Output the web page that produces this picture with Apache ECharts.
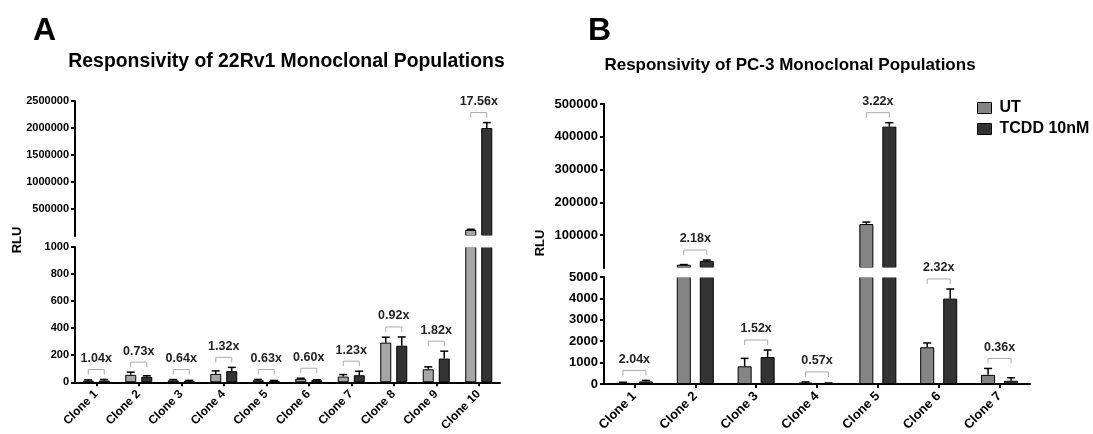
<!DOCTYPE html>
<html><head><meta charset="utf-8">
<script src="https://cdn.jsdelivr.net/npm/echarts@6/dist/echarts.min.js"></script>
<style>html,body{margin:0;padding:0;background:#fff}#c{width:1093px;height:434px}</style>
</head><body><div id="c"></div>
<script>
// ---------- DATA ----------
const catsA = ['Clone 1','Clone 2','Clone 3','Clone 4','Clone 5','Clone 6','Clone 7','Clone 8','Clone 9','Clone 10'];
const utA = [12, 55, 14, 62, 15, 25, 42, 293, 96, 114000];
const utErrA = [6, 20, 6, 22, 6, 5, 15, 40, 18, 10000];
const tcddA = [12.5, 40, 9, 82, 9.5, 15, 52, 270, 175, 2000000];
const tcddErrA = [8, 8, 5, 28, 4, 4, 30, 65, 55, 100000];
const foldA = ['1.04x','0.73x','0.64x','1.32x','0.63x','0.60x','1.23x','0.92x','1.82x','17.56x'];
const lowerMaxA = 1000, lowerStepA = 200, upperMaxA = 2500000, upperStepA = 500000;

const catsB = ['Clone 1','Clone 2','Clone 3','Clone 4','Clone 5','Clone 6','Clone 7'];
const utB = [60, 10000, 830, 70, 134000, 1720, 430];
const utErrB = [25, 500, 370, 30, 6000, 200, 300];
const tcddB = [122, 21800, 1260, 40, 431000, 3990, 155];
const tcddErrB = [50, 2500, 330, 10, 12000, 450, 140];
const foldB = ['2.04x','2.18x','1.52x','0.57x','3.22x','2.32x','0.36x'];
const lowerMaxB = 5000, lowerStepB = 1000, upperMaxB = 500000, upperStepB = 100000;

const seriesNames = ['UT', 'TCDD 10nM'];

// ---------- STYLE / LAYOUT ----------
const FONT = '"Liberation Sans", Arial, sans-serif';
const DARK = '#333333';
const UT_A = '#a6a6a6';
const UT_B = '#858585';
const G = [
  {left: 75, width: 425, top: 101, height: 135},
  {left: 75, width: 425, top: 247, height: 136},
  {left: 604, width: 426, top: 104, height: 164},
  {left: 604, width: 426, top: 277, height: 108}
];

const chart = echarts.init(document.getElementById('c'), null, {renderer: 'canvas'});

function yAxisDef(gi, max, step, fs, hideMin) {
  return {
    type: 'value', gridIndex: gi, min: 0, max: max, interval: step,
    axisLine: {show: true, lineStyle: {color: '#000', width: 2}},
    axisTick: {show: true, length: 4, lineStyle: {color: '#000', width: 2}},
    splitLine: {show: false},
    axisLabel: {
      color: '#000', fontWeight: 'bold', fontSize: fs, fontFamily: FONT, margin: 6,
      showMinLabel: !hideMin,
      formatter: v => (hideMin && v === 0) ? '' : String(v)
    }
  };
}
function xAxisDef(gi, cats, show, fs) {
  return {
    type: 'category', gridIndex: gi, data: cats, show: show,
    axisLine: {show: true, lineStyle: {color: '#000', width: 2}},
    axisTick: {show: true, alignWithLabel: true, length: 4, lineStyle: {color: '#000', width: 2}},
    axisLabel: {color: '#000', fontWeight: 'bold', fontSize: fs, fontFamily: FONT, rotate: 45, margin: 10, interval: 0}
  };
}

function barSeries(name, gi, vals, color, bw, gapPct, filter) {
  return {
    type: 'bar', name: name, xAxisIndex: gi, yAxisIndex: gi,
    barWidth: bw, barGap: gapPct, clip: true, z: 2,
    itemStyle: {color: color, borderColor: '#000', borderWidth: 1},
    emphasis: {disabled: true},
    data: vals.map(v => filter(v) ? v : '-')
  };
}

function errSeries(gi, vals, errs, sign, bw, gap, filter) {
  const data = [];
  vals.forEach((v, i) => { if (filter(v)) data.push([i, v, errs[i]]); });
  return {
    type: 'custom', xAxisIndex: gi, yAxisIndex: gi, z: 5, clip: false,
    encode: {x: 0, y: 1},
    silent: true,
    renderItem: function (params, api) {
      const i = api.value(0), v = api.value(1), e = api.value(2);
      const p0 = api.coord([i, v]);
      const p1 = api.coord([i, v + e]);
      const x = p0[0] + sign * (bw + gap) / 2;
      return {type: 'group', children: [
        {type: 'line', shape: {x1: x, y1: p0[1], x2: x, y2: p1[1]}, style: {stroke: '#000', lineWidth: 1.5}},
        {type: 'line', shape: {x1: x - 4, y1: p1[1], x2: x + 4, y2: p1[1]}, style: {stroke: '#000', lineWidth: 1.5}}
      ]};
    },
    data: data
  };
}

function foldSeries(gi, ut, utE, td, tdE, labels, bw, gap, filter) {
  const data = [];
  ut.forEach((v, i) => {
    const top = Math.max(v + utE[i], td[i] + tdE[i]);
    if (filter(Math.max(v, td[i]))) data.push([i, top]);
  });
  return {
    type: 'custom', xAxisIndex: gi, yAxisIndex: gi, z: 6, clip: false,
    encode: {x: 0, y: 1}, silent: true,
    renderItem: function (params, api) {
      const i = api.value(0), top = api.value(1);
      const p = api.coord([i, top]);
      const off = (bw + gap) / 2;
      const y = p[1] - 10;
      return {type: 'group', children: [
        {type: 'polyline', shape: {points: [[p[0] - off, y + 5], [p[0] - off, y], [p[0] + off, y], [p[0] + off, y + 5]]},
          style: {stroke: '#aaaaaa', lineWidth: 1, fill: null}},
        {type: 'text', x: p[0], y: y - 11,
          style: {text: labels[i], fontSize: 12.5, fontWeight: 'bold', fontFamily: FONT, fill: '#222',
            align: 'center', verticalAlign: 'middle'}}
      ]};
    },
    data: data
  };
}

// white band that hides the bar borders at each axis break (above bars, below annotations)
function breakBand(upper, lower) {
  const y0 = upper.top + upper.height - 0.4;
  const y1 = lower.top + 0.6;
  return {type: 'rect', z: 3, silent: true,
    shape: {x: upper.left + 1.5, y: y0, width: upper.width, height: y1 - y0},
    style: {fill: '#fff'}};
}

const BW_A = 11, GAP_A = 5, BW_B = 14, GAP_B = 9;
const lowA = v => v <= lowerMaxA, upA = v => v > lowerMaxA;
const lowB = v => v <= lowerMaxB, upB = v => v > lowerMaxB;
const all = () => true;

const option = {
  animation: false,
  backgroundColor: '#fff',
  grid: G,
  xAxis: [
    xAxisDef(0, catsA, false, 12), xAxisDef(1, catsA, true, 12),
    xAxisDef(2, catsB, false, 13), xAxisDef(3, catsB, true, 13)
  ],
  yAxis: [
    yAxisDef(0, upperMaxA, upperStepA, 11, true), yAxisDef(1, lowerMaxA, lowerStepA, 11, false),
    yAxisDef(2, upperMaxB, upperStepB, 13, true), yAxisDef(3, lowerMaxB, lowerStepB, 13, false)
  ],
  legend: {
    orient: 'vertical', left: 977, top: 100, padding: 0, itemWidth: 14, itemHeight: 11, itemGap: 5,
    icon: 'rect', selectedMode: false,
    textStyle: {fontSize: 16, fontWeight: 'bold', color: '#000', fontFamily: FONT, padding: [0, 0, 0, 3]},
    data: [
      {name: seriesNames[0], itemStyle: {color: UT_B, borderColor: '#000', borderWidth: 1}},
      {name: seriesNames[1], itemStyle: {color: DARK, borderColor: '#000', borderWidth: 1}}
    ]
  },
  graphic: [
    breakBand(G[0], G[1]),
    breakBand(G[2], G[3]),
    {type: 'text', left: 33, top: 15, style: {text: 'A', fontSize: 32, fontWeight: 'bold', fontFamily: FONT, fill: '#000'}},
    {type: 'text', left: 588, top: 15, style: {text: 'B', fontSize: 32, fontWeight: 'bold', fontFamily: FONT, fill: '#000'}},
    {type: 'text', x: 286.5, y: 62, style: {text: 'Responsivity of 22Rv1 Monoclonal Populations', fontSize: 19.4, fontWeight: 'bold', fontFamily: FONT, fill: '#000', align: 'center', verticalAlign: 'middle'}},
    {type: 'text', x: 790, y: 65, style: {text: 'Responsivity of PC-3 Monoclonal Populations', fontSize: 17, fontWeight: 'bold', fontFamily: FONT, fill: '#000', align: 'center', verticalAlign: 'middle'}},
    {type: 'text', x: 17.5, y: 240, rotation: Math.PI / 2, style: {text: 'RLU', fontSize: 13, fontWeight: 'bold', fontFamily: FONT, fill: '#000', align: 'center', verticalAlign: 'middle'}},
    {type: 'text', x: 540, y: 243, rotation: Math.PI / 2, style: {text: 'RLU', fontSize: 13, fontWeight: 'bold', fontFamily: FONT, fill: '#000', align: 'center', verticalAlign: 'middle'}}
  ],
  series: [
    // Panel A upper
    barSeries(seriesNames[0], 0, utA, UT_A, BW_A, GAP_A / BW_A * 100 + '%', upA),
    barSeries(seriesNames[1], 0, tcddA, DARK, BW_A, GAP_A / BW_A * 100 + '%', upA),
    errSeries(0, utA, utErrA, -1, BW_A, GAP_A, upA),
    errSeries(0, tcddA, tcddErrA, 1, BW_A, GAP_A, upA),
    foldSeries(0, utA, utErrA, tcddA, tcddErrA, foldA, BW_A, GAP_A, upA),
    // Panel A lower
    barSeries(seriesNames[0], 1, utA, UT_A, BW_A, GAP_A / BW_A * 100 + '%', all),
    barSeries(seriesNames[1], 1, tcddA, DARK, BW_A, GAP_A / BW_A * 100 + '%', all),
    errSeries(1, utA, utErrA, -1, BW_A, GAP_A, lowA),
    errSeries(1, tcddA, tcddErrA, 1, BW_A, GAP_A, lowA),
    foldSeries(1, utA, utErrA, tcddA, tcddErrA, foldA, BW_A, GAP_A, lowA),
    // Panel B upper
    barSeries(seriesNames[0], 2, utB, UT_B, BW_B, GAP_B / BW_B * 100 + '%', upB),
    barSeries(seriesNames[1], 2, tcddB, DARK, BW_B, GAP_B / BW_B * 100 + '%', upB),
    errSeries(2, utB, utErrB, -1, BW_B, GAP_B, upB),
    errSeries(2, tcddB, tcddErrB, 1, BW_B, GAP_B, upB),
    foldSeries(2, utB, utErrB, tcddB, tcddErrB, foldB, BW_B, GAP_B, upB),
    // Panel B lower
    barSeries(seriesNames[0], 3, utB, UT_B, BW_B, GAP_B / BW_B * 100 + '%', all),
    barSeries(seriesNames[1], 3, tcddB, DARK, BW_B, GAP_B / BW_B * 100 + '%', all),
    errSeries(3, utB, utErrB, -1, BW_B, GAP_B, lowB),
    errSeries(3, tcddB, tcddErrB, 1, BW_B, GAP_B, lowB),
    foldSeries(3, utB, utErrB, tcddB, tcddErrB, foldB, BW_B, GAP_B, lowB)
  ]
};
chart.setOption(option);
</script>
</body></html>
